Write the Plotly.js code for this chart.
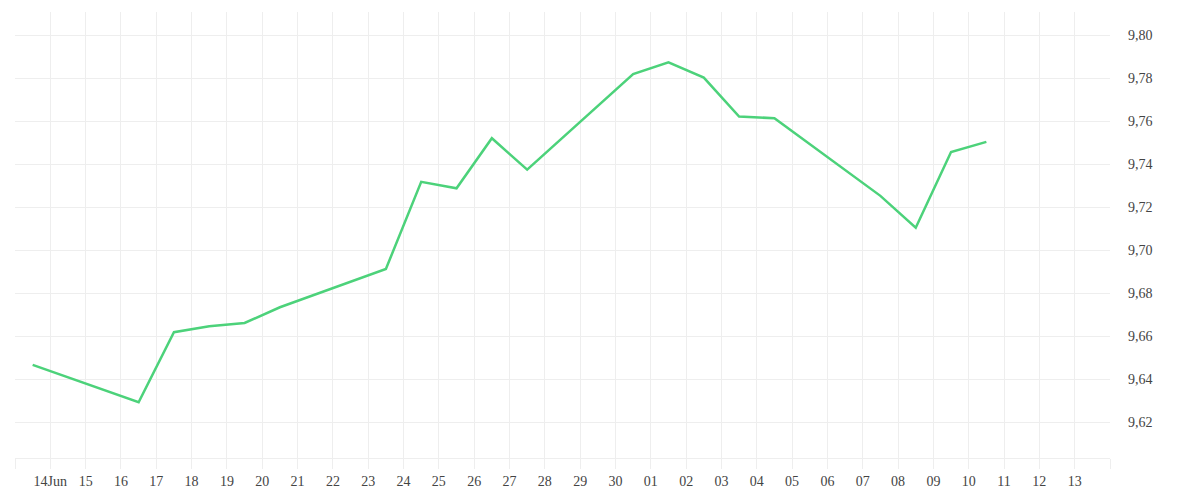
<!DOCTYPE html>
<html>
<head>
<meta charset="utf-8">
<script src="https://cdn.plot.ly/plotly-3.0.1.min.js"></script>
<style>html,body{margin:0;padding:0;background:#fff;}#chart{width:1200px;height:500px;}</style>
</head>
<body>
<div id="chart"></div>
<script>
// Data points (trading days, plotted at midday)
const dates = [
  '2025-06-13 12:00','2025-06-16 12:00','2025-06-17 12:00','2025-06-18 12:00','2025-06-19 12:00',
  '2025-06-20 12:00','2025-06-23 12:00','2025-06-24 12:00','2025-06-25 12:00','2025-06-26 12:00',
  '2025-06-27 12:00','2025-06-30 12:00','2025-07-01 12:00','2025-07-02 12:00','2025-07-03 12:00',
  '2025-07-04 12:00','2025-07-07 12:00','2025-07-08 12:00','2025-07-09 12:00','2025-07-10 12:00'
];
const values = [
  9.6467, 9.6293, 9.6619, 9.6647, 9.6662,
  9.6735, 9.6913, 9.7318, 9.7288, 9.7521,
  9.7375, 9.7819, 9.7874, 9.7803, 9.7622,
  9.7614, 9.7253, 9.7105, 9.7457, 9.7504
];
// Daily ticks from 13 Jun to 14 Jul
const tickDates = [
  '2025-06-13','2025-06-14','2025-06-15','2025-06-16','2025-06-17','2025-06-18','2025-06-19','2025-06-20',
  '2025-06-21','2025-06-22','2025-06-23','2025-06-24','2025-06-25','2025-06-26','2025-06-27','2025-06-28',
  '2025-06-29','2025-06-30','2025-07-01','2025-07-02','2025-07-03','2025-07-04','2025-07-05','2025-07-06',
  '2025-07-07','2025-07-08','2025-07-09','2025-07-10','2025-07-11','2025-07-12','2025-07-13','2025-07-14'
];
const tickLabels = [
  '','14Jun','15','16','17','18','19','20',
  '21','22','23','24','25','26','27','28',
  '29','30','01','02','03','04','05','06',
  '07','08','09','10','11','12','13',''
];
const yTicks = [9.62, 9.64, 9.66, 9.68, 9.70, 9.72, 9.74, 9.76, 9.78, 9.80];

const font = {family: 'Liberation Serif', size: 14, color: '#444'};

Plotly.newPlot('chart', [{
  x: dates,
  y: values,
  type: 'scatter',
  mode: 'lines',
  line: {color: '#4cd27a', width: 2.5},
  hoverinfo: 'skip'
}], {
  width: 1200, height: 500,
  margin: {l: 15, r: 90, t: 12, b: 42, pad: 0},
  paper_bgcolor: '#fff', plot_bgcolor: '#fff',
  separators: ',.',
  showlegend: false,
  font: font,
  xaxis: {
    type: 'date',
    range: ['2025-06-13', '2025-07-14'],
    tickmode: 'array', tickvals: tickDates, ticktext: tickLabels,
    showgrid: true, gridcolor: '#eeeeee', gridwidth: 1,
    ticks: 'outside', ticklen: 10, tickcolor: '#eeeeee', tickwidth: 1,
    showline: true, linecolor: '#eeeeee', linewidth: 1,
    zeroline: false,
    tickfont: font
  },
  yaxis: {
    side: 'right',
    range: [9.6034, 9.8108],
    tickmode: 'array', tickvals: yTicks,
    tickformat: '.2f',
    showgrid: true, gridcolor: '#eeeeee', gridwidth: 1,
    ticks: '', ticklabelstandoff: 17,
    showline: false, zeroline: false,
    tickfont: font
  }
}, {staticPlot: true, displayModeBar: false});
</script>
</body>
</html>
